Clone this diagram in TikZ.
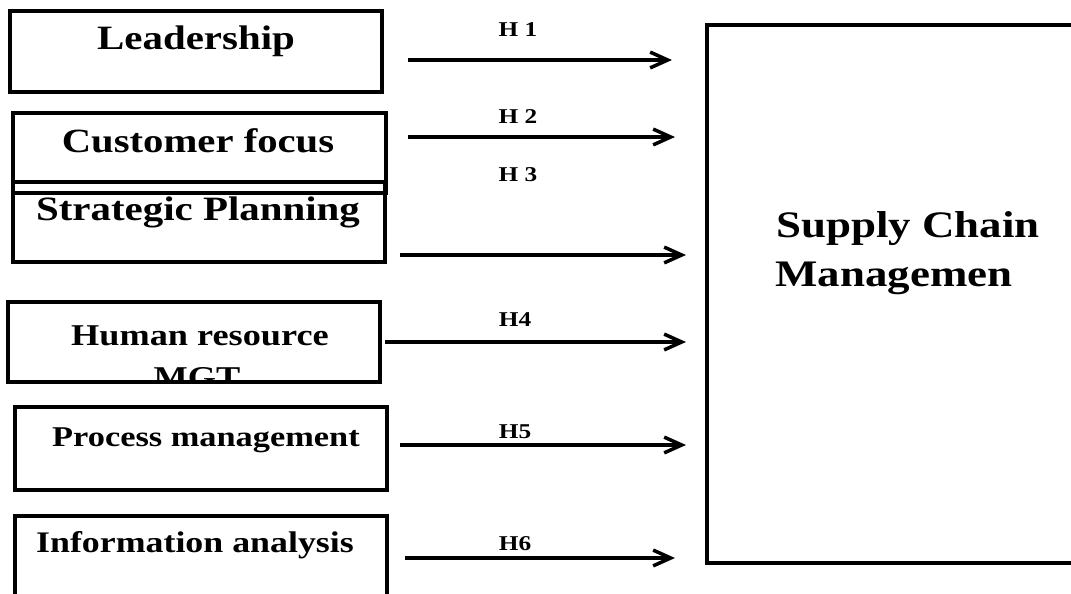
\documentclass[tikz,border=0pt]{standalone}
\usepackage{fontspec}
\setmainfont{Liberation Serif}
\usepackage{graphicx}
\usetikzlibrary{arrows.meta}

\newcommand{\wide}[1]{\scalebox{1.2}[1]{#1}}

\begin{document}
\begin{tikzpicture}[x=0.02cm, y=-0.02cm,
  box/.style={line width=2.3pt},
  lbl/.style={anchor=base, inner sep=0pt, font=\bfseries},
  link/.style={line width=2pt, -{Straight Barb[length=10pt, width=9pt]}}]
\useasboundingbox (0,0) rectangle (1071,594);

% factor boxes
\draw[box] (10,11) rectangle (382,92);
\node[lbl] (lead) at (196,50) {\fontsize{19.4}{23}\selectfont\wide{Leadership}};
\draw[box] (13,113) rectangle (386,193);
\node[lbl] (cust) at (198,153) {\fontsize{19.3}{23}\selectfont\wide{Customer focus}};
\draw[box] (13,182) rectangle (385,262);
\node[lbl] (strat) at (198,221) {\fontsize{19.4}{23}\selectfont\wide{Strategic Planning}};
\draw[box] (8,302) rectangle (380,382);
\begin{scope}
\clip (8,302) rectangle (380,382);
\node[lbl] (hrm) at (200,345) {\fontsize{17.2}{21}\selectfont\wide{Human resource}};
\node[lbl] (mgt) at (197,387) {\fontsize{17.2}{21}\selectfont\wide{MGT}};
\end{scope}
\draw[box] (15,407) rectangle (387,490);
\node[lbl] (proc) at (206,446) {\fontsize{16.3}{20}\selectfont\wide{Process management}};
\draw[box] (15,516) rectangle (387,600);
\node[lbl] (info) at (195,552) {\fontsize{17}{21}\selectfont\wide{Information analysis}};

% outcome box
\draw[box] (707,25) rectangle (1080,563);
\node[lbl, anchor=base west] (scm1) at (776,238) {\fontsize{21.3}{25}\selectfont\wide{Supply Chain}};
\node[lbl, anchor=base west] (scm2) at (775,287) {\fontsize{21.3}{25}\selectfont\wide{Managemen}};

% hypothesis arrows
\foreach \i/\xa/\xb/\y/\txt/\xl/\yl in {1/408/672/60/H 1/518/37,
    2/408/675/137/H 2/518/124, 3/400/686/255/H 3/518/182,
    4/385/686/342/H4/515/327, 5/400/686/445/H5/515/438,
    6/405/675/558/H6/515/550}{
  \coordinate (s\i) at (\xa,\y);
  \coordinate (e\i) at (\xb,\y);
  \draw[link] (s\i) -- (e\i);
  \node[lbl] (h\i) at (\xl,\yl) {\fontsize{12}{14}\selectfont\wide{\txt}};
}
\end{tikzpicture}
\end{document}
